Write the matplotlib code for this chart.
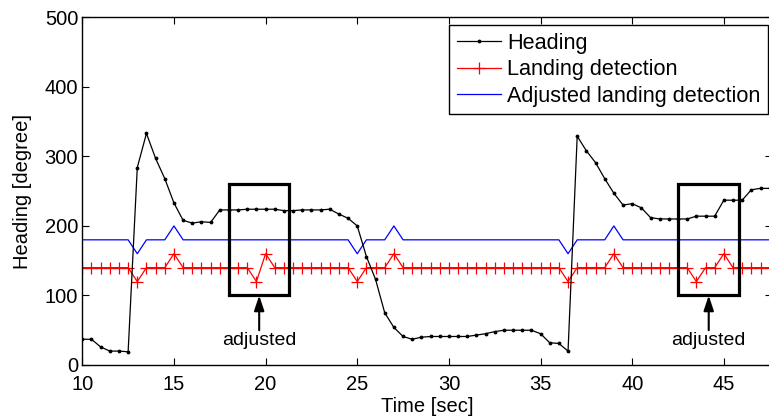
import numpy as np
import matplotlib
matplotlib.use("Agg")
import matplotlib.pyplot as plt

plt.rcParams['font.family'] = ['Liberation Sans', 'DejaVu Sans']

# Time axis (sec), 0.5 s sampling
time = np.arange(10.0, 47.51, 0.5)

heading = [37, 37, 26, 20, 20, 19, 284, 333, 297, 268,
           233, 208, 204, 206, 205, 223, 223, 223, 224, 224,
           224, 224, 222, 222, 223, 223, 223, 224, 217, 211,
           200, 156, 123, 75, 54, 41, 37, 40, 41, 41,
           41, 41, 41, 43, 45, 48, 50, 50, 50, 50,
           45, 32, 31, 20, 329, 308, 291, 268, 247, 230,
           232, 226, 212, 210, 210, 210, 210, 214, 214, 214,
           237, 237, 237, 252, 254, 254]

# Landing detection events (time, value); baseline 140
landing_base = 140
landing_events = {13.0: 120, 15.0: 160, 19.5: 120, 20.0: 160,
                  25.0: 120, 27.0: 160, 36.5: 120, 39.0: 160,
                  43.5: 120, 45.0: 160}
landing = [landing_events.get(round(t, 1), landing_base) for t in time]

# Adjusted landing detection; baseline 180
adjusted_base = 180
adjusted_events = {13.0: 160, 15.0: 200, 25.0: 160, 27.0: 200,
                   36.5: 160, 39.0: 200}
adjusted = [adjusted_events.get(round(t, 1), adjusted_base) for t in time]

# Highlight boxes (x0, x1, y0, y1) and annotation
boxes = [(18.0, 21.3, 100, 261), (42.5, 45.85, 100, 261)]
annot_label = "adjusted"

W, H = 769, 420
fig = plt.figure(figsize=(W / 100, H / 100), dpi=100)
ax = fig.add_axes([82.3 / W, (H - 365) / H, 689.2 / W, (365 - 17.3) / H])

ax.plot(time, heading, color='black', lw=0.9, marker='.', markersize=3.5,
        label='Heading', zorder=3)
ax.plot(time, landing, color='red', lw=0.9, marker='+', markersize=8,
        markeredgewidth=0.9, label='Landing detection', zorder=2)
ax.plot(time, adjusted, color='blue', lw=0.9, label='Adjusted landing detection',
        zorder=2)

for (x0, x1, y0, y1) in boxes:
    ax.add_patch(plt.Rectangle((x0, y0), x1 - x0, y1 - y0, fill=False,
                               edgecolor='black', lw=2.3, zorder=4))
    xc = (x0 + x1) / 2
    ax.annotate('', xy=(xc, y0), xytext=(xc, 50),
                arrowprops=dict(arrowstyle='-|>,head_length=0.9,head_width=0.3',
                                color='black', lw=1.5, shrinkA=0, shrinkB=0))
    ax.text(xc, 35, annot_label, ha='center', va='center', fontsize=14)

ax.set_xlim(10, 47.6)
ax.set_ylim(0, 500)
ax.set_xticks(np.arange(10, 50, 5))
ax.set_yticks(np.arange(0, 501, 100))
ax.tick_params(direction='in', length=5, width=0.8, labelsize=14.5,
               top=True, right=True)
ax.tick_params(axis='x', pad=7)
ax.tick_params(axis='y', pad=3)
for s in ax.spines.values():
    s.set_linewidth(1.0)

ax.set_xlabel('Time [sec]', fontsize=14.5, labelpad=2)
ax.set_ylabel('Heading [degree]', fontsize=14.5, labelpad=9)

leg = ax.legend(loc='upper left', bbox_to_anchor=(449 / W, 1 - 25 / H),
                bbox_transform=fig.transFigure, fontsize=15.6, frameon=True,
                fancybox=False, edgecolor='black', framealpha=1,
                handlelength=2.05, handletextpad=0.28, labelspacing=0.26,
                borderpad=0.35, borderaxespad=0)
leg.get_frame().set_linewidth(1.0)

fig.savefig('out.png', dpi=100)
